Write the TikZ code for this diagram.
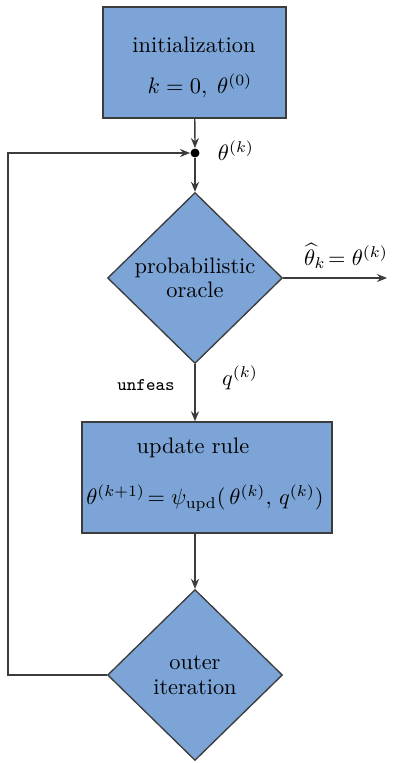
\documentclass[tikz,border=0pt]{standalone}
\usepackage{amsmath}
\usepackage{tikz}
\usetikzlibrary{arrows.meta,shapes.geometric}
\definecolor{fc-fill}{HTML}{7CA4D6}
\definecolor{fc-line}{HTML}{3C3C3C}

\begin{document}
\begin{tikzpicture}[x=0.447pt, y=-0.447pt,
    flow/.style={draw=fc-line, line width=0.6pt},
    arr/.style={flow, -{Stealth[length=4.5pt, width=3.6pt]}},
    blockbox/.style={draw=fc-line, line width=0.6pt, fill=fc-fill, rectangle, inner sep=0pt},
    decision/.style={draw=fc-line, line width=0.6pt, fill=fc-fill, diamond, inner sep=0pt,
        minimum width=78.2pt, minimum height=76.4pt, align=center}]
    \useasboundingbox (0,0) rectangle (396,763);
    \node[blockbox, minimum width=81.8pt, minimum height=49.6pt] (init) at (194.5,62.5) {};
    \node (initA) at (194,45) {initialization};
    \node (initB) at (200,86) {$k=0,\;\theta^{(0)}$};
    \node[circle, fill=black, inner sep=0pt, minimum size=4pt] (dot) at (195,153) {};
    \node (thk) at (236,151) {$\theta^{(k)}$};
    \node[decision] (oracle) at (195,278) {probabilistic\\[-1pt]oracle};
    \coordinate (out) at (387,278);
    \node (outlbl) at (346,256) {$\widehat{\theta}_k\!=\theta^{(k)}$};
    \node[font=\footnotesize\ttfamily] (unf) at (146,385) {unfeas};
    \node (qk) at (240,378) {$q^{(k)}$};
    \node[blockbox, minimum width=111.8pt, minimum height=49.6pt] (upd) at (207,477.5) {};
    \node (updA) at (193,448) {update rule};
    \node (updB) at (205,498) {$\theta^{(k+1)}\!=\psi_{\mathrm{upd}}(\,\theta^{(k)},\,q^{(k)})$};
    \node[decision] (outer) at (195,675) {outer\\[-1pt]iteration};
    \coordinate (loop) at (8,153);

    \draw[arr] (init) -- (dot);
    \draw[arr] (outer.west) -| (loop) -- (dot);
    \draw[arr] (dot) -- (oracle.north);
    \draw[arr] (oracle.east) -- (out);
    \draw[arr] (oracle.south) -- (oracle.south |- upd.north);
    \draw[arr] (outer.north |- upd.south) -- (outer.north);
\end{tikzpicture}
\end{document}
